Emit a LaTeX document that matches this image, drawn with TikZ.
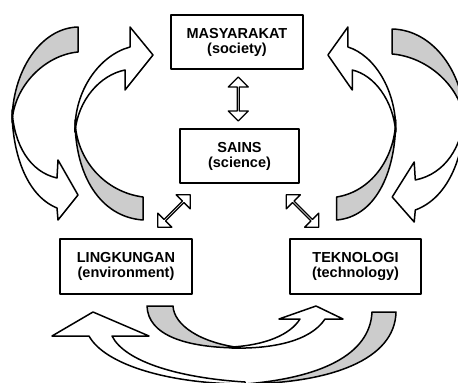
\documentclass[tikz,border=0pt]{standalone}
\usepackage{fontspec}
\setmainfont{Liberation Sans}
\usetikzlibrary{shapes.arrows}
\usetikzlibrary{calc}
\usetikzlibrary{positioning}

\begin{document}
\begin{tikzpicture}[line cap=round,line join=round,x=1pt,y=-1pt,
  box/.style={draw,line width=1.8pt,fill=white,align=center,inner sep=0pt,font=\fontsize{14.5}{15}\selectfont\bfseries},
  back/.style={draw,line width=1.5pt,fill=black!20},
  front/.style={draw,line width=1.5pt,fill=white},
  link/.style={double arrow,draw,fill=white,line width=1.3pt,inner sep=0pt,minimum height=45pt,minimum width=20pt,double arrow head extend=5.5pt}]
\useasboundingbox (0,0) rectangle (458,383);
\clip (0,0) rectangle (458,383);
\draw[back] (78,27) .. controls (40,28) and (12,72) .. (12,122) .. controls (14,86) and (45,55) .. (78,52) -- cycle;
\draw[front] (12,110) .. controls (12,150) and (25,195) .. (57,208) -- (58,220) -- (78,195) -- (58,160) -- (57,178) .. controls (30,172) and (14,145) .. (12,110) -- cycle;
\draw[back] (143,197) .. controls (105,192) and (76,160) .. (75,120) .. controls (75,175) and (100,217) .. (143,220) -- cycle;
\draw[front] (75,132) .. controls (74,90) and (100,55) .. (130,47) -- (130,27) -- (153,55) -- (125,90) -- (125,70) .. controls (100,75) and (78,100) .. (75,132) -- cycle;
\begin{scope}[xshift=478pt,yshift=-2pt,xscale=-1.1]
\draw[back] (78,27) .. controls (40,28) and (12,72) .. (12,122) .. controls (14,86) and (45,55) .. (78,52) -- cycle;
\draw[front] (12,110) .. controls (12,150) and (25,195) .. (57,208) -- (58,220) -- (78,195) -- (58,160) -- (57,178) .. controls (30,172) and (14,145) .. (12,110) -- cycle;
\end{scope}
\begin{scope}[xshift=461pt,xscale=-0.87]
\draw[back] (143,197) .. controls (105,192) and (76,160) .. (75,120) .. controls (75,175) and (100,217) .. (143,220) -- cycle;
\draw[front] (75,132) .. controls (74,90) and (100,55) .. (130,47) -- (130,27) -- (153,55) -- (125,90) -- (125,70) .. controls (100,75) and (78,100) .. (75,132) -- cycle;
\end{scope}
\draw[back] (147,306) .. controls (148,335) and (185,348) .. (242,348) .. controls (200,343) and (174,325) .. (173,306) -- cycle;
\draw[front] (232,347) .. controls (265,345) and (290,335) .. (300,319) -- (279,319) -- (316,306) -- (343,319) -- (325,319) .. controls (310,342) and (270,349) .. (232,348) -- cycle;
\draw[back] (396,312) .. controls (395,360) and (330,383) .. (245,384) .. controls (320,378) and (370,355) .. (372,312) -- cycle;
\draw[front] (245,384) .. controls (170,384) and (105,365) .. (89,336) -- (52,336) -- (93,312) -- (149,336) -- (112,336) .. controls (125,362) and (180,378) .. (245,382) -- cycle;
\node[box,minimum width=132pt,minimum height=54pt] (soc) at (237,42) {MASYARAKAT\\(society)};
\node[box,minimum width=119pt,minimum height=54pt] (sci) at (239.5,156) {SAINS\\(science)};
\node[box,minimum width=132pt,minimum height=55pt] (env) at (126,266.5) {LINGKUNGAN\\(environment)};
\node[box,minimum width=131pt,minimum height=55pt] (tech) at (355.5,266.5) {TEKNOLOGI\\(technology)};
\node[link,rotate=90,minimum height=44pt] (socsci) at ($(soc.south)!0.5!(sci.north)$) {};
\node[link,rotate=45,minimum height=46pt] (scienv) at ($(sci.south west)!0.5!(env.north east)+(-12,0)$) {};
\node[link,rotate=-45,minimum height=46pt] (scitech) at ($(sci.south east)!0.5!(tech.north west)+(8,0)$) {};
\end{tikzpicture}
\end{document}
